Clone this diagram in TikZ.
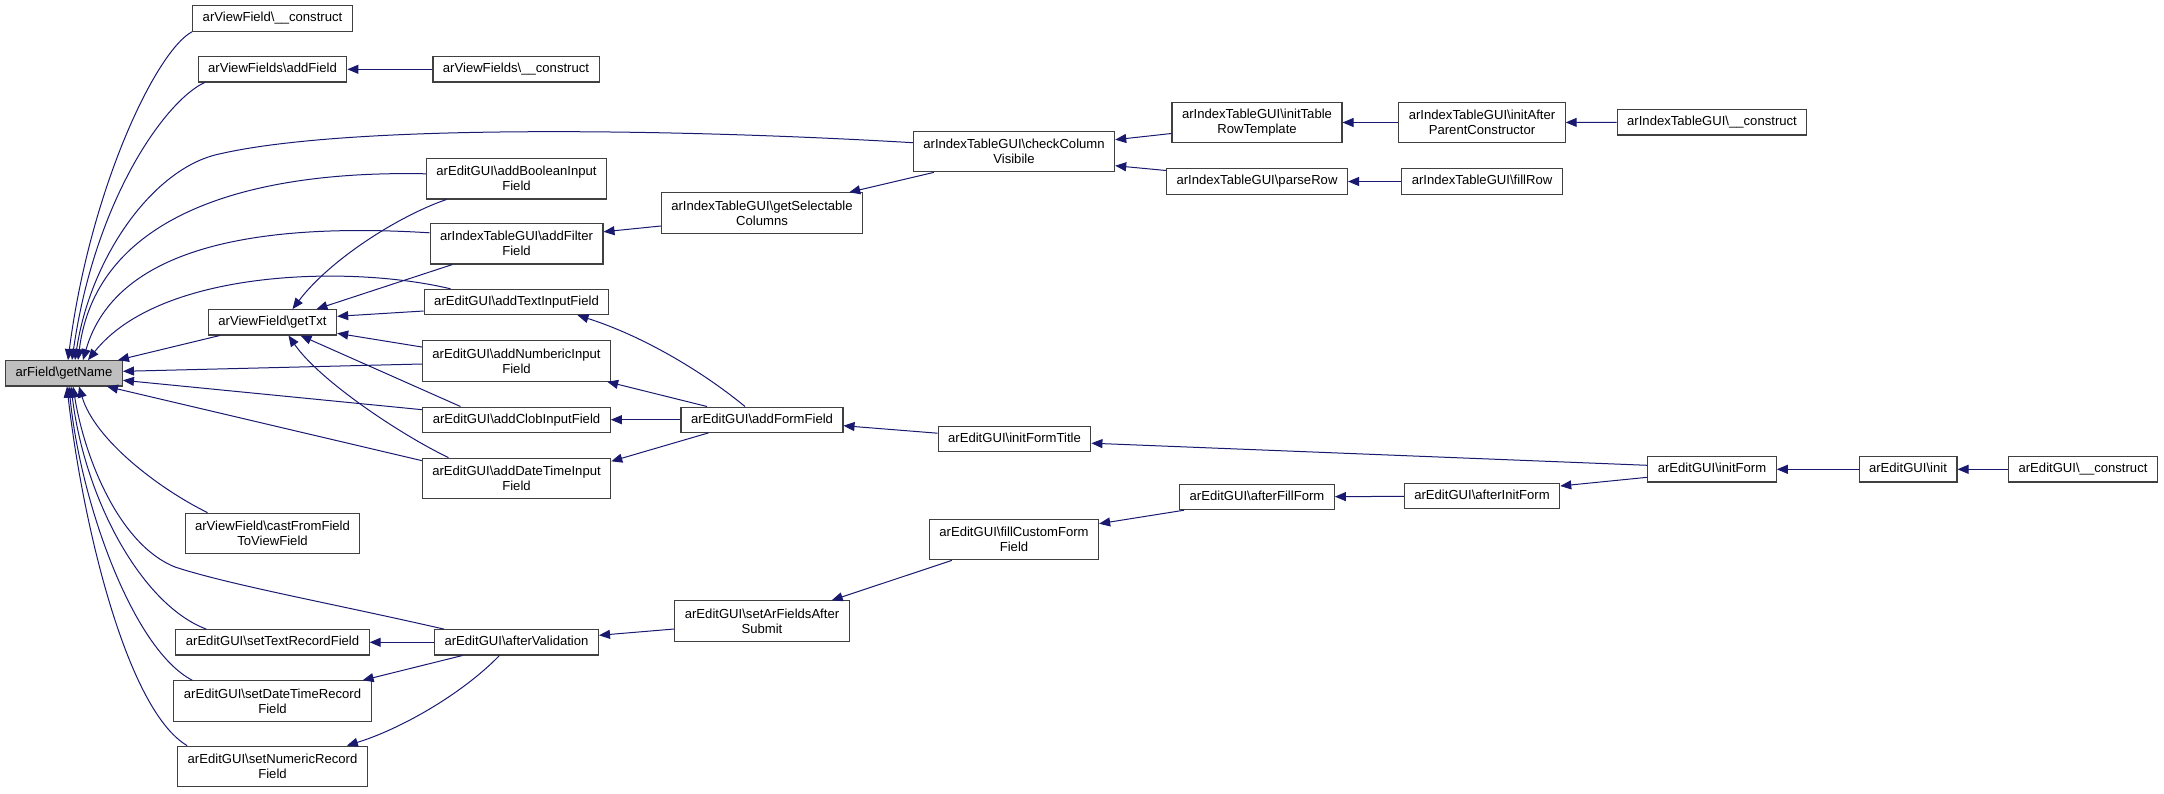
\documentclass[tikz,border=0pt]{standalone}
\usepackage{fontspec}
\newfontfamily\dxfont{Liberation Sans}
\usetikzlibrary{arrows.meta,calc}
\definecolor{edgeblue}{HTML}{191970}
\newcommand{\bsl}{\textbackslash}
\tikzset{
  fnbase/.style={draw=black!75, line width=1.1pt, fill=white, font=\dxfont\fontsize{13.1}{15}\selectfont, align=center, inner xsep=10pt, inner ysep=0pt},
  fn/.style={fnbase, minimum height=25.3pt, text height=9.6pt, text depth=2.9pt},
  fn2/.style={fnbase, minimum height=40.3pt},
  call/.style={draw=edgeblue, line width=1pt, -{Triangle[length=11pt,width=9pt]}}
}
\begin{document}
\begin{tikzpicture}[x=1pt,y=-1pt]
\useasboundingbox (0,0) rectangle (2164,793);

% function boxes
\node[fn, fill=black!25] (getName) at (64,373.3) {arField\bsl getName};
\node[fn] (vfConstruct) at (272.5,18.5) {arViewField\bsl\_\_construct};
\node[fn] (vfsAddField) at (272.5,69.3) {arViewFields\bsl addField};
\node[fn] (vfsConstruct) at (516,69.3) {arViewFields\bsl\_\_construct};
\node[fn2] (checkCol) at (1014,151.7) {arIndexTableGUI\bsl checkColumn\\Visibile};
\node[fn2] (initRowTpl) at (1257,122.5) {arIndexTableGUI\bsl initTable\\RowTemplate};
\node[fn2] (initAfter) at (1482,122.5) {arIndexTableGUI\bsl initAfter\\ParentConstructor};
\node[fn] (itConstruct) at (1712,122.3) {arIndexTableGUI\bsl\_\_construct};
\node[fn] (parseRow) at (1257,181.5) {arIndexTableGUI\bsl parseRow};
\node[fn] (fillRow) at (1482,181.5) {arIndexTableGUI\bsl fillRow};
\node[fn2] (addBool) at (516.5,178.8) {arEditGUI\bsl addBooleanInput\\Field};
\node[fn2] (getSel) at (762,213) {arIndexTableGUI\bsl getSelectable\\Columns};
\node[fn2] (addFilter) at (516.5,243.8) {arIndexTableGUI\bsl addFilter\\Field};
\node[fn] (addText) at (516.5,302) {arEditGUI\bsl addTextInputField};
\node[fn] (getTxt) at (272.5,322.3) {arViewField\bsl getTxt};
\node[fn2] (addNum) at (516.5,361) {arEditGUI\bsl addNumbericInput\\Field};
\node[fn] (addClob) at (516.5,419.7) {arEditGUI\bsl addClobInputField};
\node[fn] (addForm) at (762,419.7) {arEditGUI\bsl addFormField};
\node[fn2] (addDate) at (516.5,478.3) {arEditGUI\bsl addDateTimeInput\\Field};
\node[fn] (initTitle) at (1014.5,439.2) {arEditGUI\bsl initFormTitle};
\node[fn] (initForm) at (1712,469.3) {arEditGUI\bsl initForm};
\node[fn] (init) at (1908,469.3) {arEditGUI\bsl init};
\node[fn] (egConstruct) at (2083,469.3) {arEditGUI\bsl\_\_construct};
\node[fn] (afterFill) at (1257,497) {arEditGUI\bsl afterFillForm};
\node[fn] (afterInit) at (1482,496) {arEditGUI\bsl afterInitForm};
\node[fn2] (fillCustom) at (1014,539.7) {arEditGUI\bsl fillCustomForm\\Field};
\node[fn2] (castFrom) at (272.5,533.3) {arViewField\bsl castFromField\\ToViewField};
\node[fn2] (setAr) at (762,621) {arEditGUI\bsl setArFieldsAfter\\Submit};
\node[fn] (setText) at (272.5,642.3) {arEditGUI\bsl setTextRecordField};
\node[fn] (afterVal) at (516.5,642.3) {arEditGUI\bsl afterValidation};
\node[fn2] (setDate) at (272.5,701) {arEditGUI\bsl setDateTimeRecord\\Field};
\node[fn2] (setNum) at (272.5,766.3) {arEditGUI\bsl setNumericRecord\\Field};

% callers of getName
\draw[call] (vfConstruct.south west) .. controls +(-36,19) and +(22,-171) .. ($(getName.north)+(4,0)$);
\draw[call] ($(vfsAddField.south west)+(7,0)$) .. controls +(-39,18) and +(23,-161) .. ($(getName.north)+(8,0)$);
\draw[call] ($(checkCol.west)+(0,-9)$) .. controls (700,130) and (350,122) .. (215,155)
  .. controls (150,172) and (90,260) .. ($(getName.north)+(11,0)$);
\draw[call] ($(addBool.west)+(0,-5)$) .. controls +(-195,-4) and +(17,-136) .. ($(getName.north)+(14,0)$);
\draw[call] ($(addFilter.west)+(0,-11)$) .. controls +(-178,-11) and +(32,-111) .. ($(getName.north)+(19,0)$);
\draw[call] ($(addText.north)+(-66,0)$) .. controls +(-100,-24) and +(72,-91) .. ($(getName.north)+(24,0)$);
\draw[call] ($(getTxt.south west)+(12,0)$) -- ($(getName.north east)+(-5,0)$);
\draw[call] ($(addNum.west)+(0,3)$) -- ($(getName.east)+(0,-2)$);
\draw[call] ($(addClob.west)+(0,-10)$) -- ($(getName.east)+(0,7)$);
\draw[call] ($(addDate.north west)+(0,3)$) -- ($(getName.south)+(43,0)$);
\draw[call] ($(castFrom.north west)+(23,0)$) .. controls +(-47,-23) and +(16,54) .. ($(getName.south)+(15,0)$);
\draw[call] ($(afterVal.north west)+(10,0)$) .. controls (330,603) and (230,585) .. (175,567)
  .. controls (120,545) and (85,460) .. ($(getName.south)+(9,0)$);
\draw[call] ($(setText.north west)+(31,0)$) .. controls +(-64,-24) and +(14,114) .. ($(getName.south)+(7,0)$);
\draw[call] ($(setDate.north west)+(19,0)$) .. controls +(-60,-31) and +(11,114) .. ($(getName.south)+(5,0)$);
\draw[call] ($(setNum.north west)+(10,0)$) .. controls +(-61,-36) and +(15,134) .. ($(getName.south)+(3,0)$);

% callers of getTxt
\draw[call] ($(addBool.south)+(-70,0)$) .. controls +(-47,16) and +(38,-50) .. ($(getTxt.north)+(20,0)$);
\draw[call] ($(addFilter.south)+(-64,0)$) -- ($(getTxt.north)+(44,0)$);
\draw[call] ($(addText.west)+(0,9)$) -- ($(getTxt.east)+(0,-6)$);
\draw[call] ($(addNum.west)+(0,-14)$) -- ($(getTxt.east)+(0,11)$);
\draw[call] ($(addClob.north)+(-56,0)$) -- ($(getTxt.south)+(28,0)$);
\draw[call] ($(addDate.north)+(-68,0)$) .. controls +(-48,-23) and +(31,45) .. ($(getTxt.south)+(16,0)$);

% the rest
\draw[call] (vfsConstruct) -- (vfsAddField);
\draw[call] ($(getSel.west)+(0,13)$) -- ($(addFilter.east)+(0,-12)$);
\draw[call] ($(checkCol.south west)+(21,0)$) -- ($(getSel.north east)+(-14,0)$);
\draw[call] ($(initRowTpl.west)+(0,11)$) -- ($(checkCol.east)+(0,-12)$);
\draw[call] ($(parseRow.west)+(0,-11)$) -- ($(checkCol.east)+(0,14)$);
\draw[call] (initAfter) -- (initRowTpl);
\draw[call] (itConstruct) -- (initAfter);
\draw[call] (fillRow) -- (parseRow);
\draw[call] ($(addForm.north)+(-17,0)$) .. controls +(-45,-37) and +(63,20) .. ($(addText.south)+(61,0)$);
\draw[call] ($(addForm.north)+(-55,0)$) -- ($(addNum.south east)+(-4,0)$);
\draw[call] (addForm) -- (addClob);
\draw[call] ($(addForm.south west)+(28,0)$) -- ($(addDate.east)+(0,-17)$);
\draw[call] ($(initTitle.west)+(0,-6)$) -- ($(addForm.east)+(0,6)$);
\draw[call] ($(initForm.west)+(0,-4)$) -- ($(initTitle.east)+(0,4)$);
\draw[call] ($(initForm.west)+(0,8)$) -- ($(afterInit.east)+(0,-10)$);
\draw[call] (init) -- (initForm);
\draw[call] (egConstruct) -- (init);
\draw[call] (afterInit) -- (afterFill);
\draw[call] ($(afterFill.south west)+(5,0)$) -- ($(fillCustom.east)+(0,-16)$);
\draw[call] ($(fillCustom.south west)+(23,0)$) -- ($(setAr.north east)+(-18,0)$);
\draw[call] ($(setAr.west)+(0,8)$) -- ($(afterVal.east)+(0,-7)$);
\draw[call] (afterVal) -- (setText);
\draw[call] ($(afterVal.south)+(-54,0)$) -- ($(setDate.north east)+(-9,0)$);
\draw[call] ($(afterVal.south)+(-17,0)$) .. controls +(-39,40) and +(52,-16) .. ($(setNum.north east)+(-21,0)$);
\end{tikzpicture}
\end{document}
